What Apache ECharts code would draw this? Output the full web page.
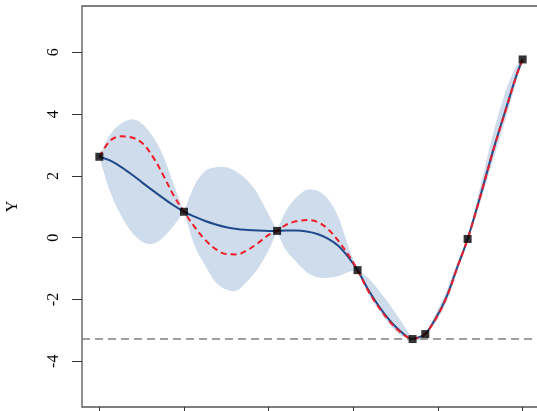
<!DOCTYPE html>
<html>
<head>
<meta charset="utf-8">
<script src="https://cdn.jsdelivr.net/npm/echarts@6/dist/echarts.min.js"></script>
<style>
html,body{margin:0;padding:0;background:#ffffff;}
#chart{width:537px;height:411px;}
</style>
</head>
<body>
<div id="chart"></div>
<script>
const xGrid = [0, 0.025, 0.05, 0.075, 0.1, 0.125, 0.15, 0.175, 0.2, 0.225, 0.25, 0.275, 0.3, 0.325, 0.35, 0.375, 0.4,
  0.42, 0.44, 0.465, 0.49, 0.515, 0.54, 0.565, 0.59,
  0.61,
  0.635, 0.66, 0.685, 0.71,
  0.74, 0.755, 0.77,
  0.795, 0.82, 0.845,
  0.87,
  0.9, 0.93, 0.96, 0.985, 1.0];

// posterior mean (blue solid)
const meanY = [2.62, 2.50, 2.30, 2.06, 1.80, 1.54, 1.29, 1.05, 0.84, 0.68, 0.54, 0.43, 0.34, 0.28, 0.25, 0.23, 0.22,
  0.22, 0.23, 0.23, 0.20, 0.12, -0.03, -0.27, -0.66,
  -1.05,
  -1.68, -2.21, -2.66, -3.01,
  -3.28, -3.22, -3.12,
  -2.60, -1.92, -0.98,
  -0.04,
  1.35, 2.81, 4.15, 5.24, 5.77];

// upper edge of the shaded band
const upperY = [2.62, 3.33, 3.68, 3.83, 3.70, 3.30, 2.68, 1.75, 0.84, 1.70, 2.16, 2.28, 2.28, 2.13, 1.85, 1.40, 0.75,
  0.22, 0.85, 1.30, 1.55, 1.52, 1.25, 0.65, -0.35,
  -1.05,
  -1.30, -1.70, -2.15, -2.65,
  -3.28, -3.18, -3.12,
  -2.45, -1.72, -0.82,
  -0.04,
  1.65, 3.35, 4.75, 5.55, 5.77];

// lower edge of the shaded band
const lowerY = [2.62, 1.50, 0.75, 0.20, -0.12, -0.20, 0.00, 0.38, 0.84, -0.25, -0.90, -1.45, -1.68, -1.71, -1.40, -1.00, -0.40,
  0.22, -0.38, -0.78, -1.12, -1.28, -1.30, -1.24, -1.10,
  -1.05,
  -1.80, -2.33, -2.78, -3.14,
  -3.28, -3.32, -3.12,
  -2.72, -2.08, -1.10,
  -0.04,
  1.15, 2.50, 3.85, 5.05, 5.77];

// sample path (red dashed)
const sampleY = [2.62, 3.13, 3.28, 3.25, 3.08, 2.65, 2.05, 1.38, 0.84, 0.35, -0.07, -0.37, -0.53, -0.54, -0.40, -0.17, 0.09,
  0.22, 0.41, 0.53, 0.57, 0.51, 0.28, -0.11, -0.59,
  -1.05,
  -1.72, -2.25, -2.70, -3.04,
  -3.28, -3.23, -3.12,
  -2.62, -1.94, -0.99,
  -0.04,
  1.33, 2.80, 4.13, 5.23, 5.77];

// observations (black squares)
const obsX = [0, 0.2, 0.42, 0.61, 0.74, 0.77, 0.87, 1.0];
const obsY = [2.62, 0.84, 0.22, -1.05, -3.28, -3.12, -0.04, 5.77];

// best observed value (grey dashed line)
const bestY = -3.28;

// ticks
const xTicks = [0, 0.2, 0.4, 0.6, 0.8, 1.0];
const yTicks = [-4, -2, 0, 2, 4, 6];

const pairs = (ys) => xGrid.map((x, i) => [x, ys[i]]);
const obsPts = obsX.map((x, i) => [x, obsY[i]]);
// band pinches at the observations
const pinchIdx = obsX.map(ox => xGrid.indexOf(ox));

const serif = "'Liberation Serif', 'DejaVu Serif', serif";
const chart = echarts.init(document.getElementById('chart'), null, {renderer: 'canvas'});

// smooth open curve through pixel points (Catmull-Rom as cubic Beziers), appended to a path string
function curveTo(pts) {
  let d = '';
  const n = pts.length;
  for (let i = 0; i < n - 1; i++) {
    const p0 = pts[Math.max(i - 1, 0)];
    const p1 = pts[i];
    const p2 = pts[i + 1];
    const p3 = pts[Math.min(i + 2, n - 1)];
    const c1 = [p1[0] + (p2[0] - p0[0]) / 6, p1[1] + (p2[1] - p0[1]) / 6];
    const c2 = [p2[0] - (p3[0] - p1[0]) / 6, p2[1] - (p3[1] - p1[1]) / 6];
    d += ' C' + c1[0] + ',' + c1[1] + ' ' + c2[0] + ',' + c2[1] + ' ' + p2[0] + ',' + p2[1];
  }
  return d;
}

function renderBand(params, api) {
  let d = '';
  for (let k = 0; k < pinchIdx.length - 1; k++) {
    const s = pinchIdx[k], e = pinchIdx[k + 1];
    const top = [], bot = [];
    for (let i = s; i <= e; i++) top.push(api.coord([xGrid[i], upperY[i]]));
    for (let i = e; i >= s; i--) bot.push(api.coord([xGrid[i], lowerY[i]]));
    d += 'M' + top[0][0] + ',' + top[0][1] + curveTo(top);
    d += ' L' + bot[0][0] + ',' + bot[0][1] + curveTo(bot) + ' Z ';
  }
  return {
    type: 'path',
    shape: {pathData: d},
    style: {fill: '#cfdcec', stroke: null},
    silent: true
  };
}

chart.setOption({
  animation: false,
  backgroundColor: '#ffffff',
  grid: {
    left: 82, top: 6, right: -3, bottom: 4,
    containLabel: false,
    outerBoundsMode: 'none',
    show: true, borderColor: '#555555', borderWidth: 1.3,
    backgroundColor: 'transparent'
  },
  xAxis: {
    type: 'value',
    min: -0.041, max: 1.041,
    axisLine: {show: false, onZero: false},
    splitLine: {show: false},
    axisTick: {show: true, length: 10, customValues: xTicks, lineStyle: {color: '#333333', width: 1}},
    axisLabel: {show: false}
  },
  yAxis: {
    type: 'value',
    min: -5.48, max: 7.50,
    axisLine: {show: false, onZero: false},
    splitLine: {show: false},
    axisTick: {show: true, length: 10, customValues: yTicks, lineStyle: {color: '#333333', width: 1}},
    axisLabel: {
      show: true, customValues: yTicks, rotate: 90, margin: 20,
      fontSize: 16, fontFamily: serif, color: '#000000'
    },
    name: 'Y',
    nameLocation: 'middle',
    nameGap: 61,
    nameTextStyle: {fontSize: 16, fontFamily: serif, color: '#000000'}
  },
  series: [
    {
      name: 'band', type: 'custom',
      renderItem: renderBand,
      data: [[0, 0]],
      encode: {x: 0, y: 1},
      silent: true,
      z: 1
    },
    {
      name: 'mean', type: 'line', data: pairs(meanY),
      smooth: 0.35, symbol: 'none',
      lineStyle: {color: '#1f4a8a', width: 2},
      z: 3,
      markLine: {
        silent: true, symbol: 'none',
        label: {show: false},
        lineStyle: {color: '#808080', width: 1.5, type: [8, 5]},
        data: [{yAxis: bestY}]
      }
    },
    {
      name: 'sample', type: 'line', data: pairs(sampleY),
      smooth: 0.35, symbol: 'none',
      lineStyle: {color: '#ee1c25', width: 2, type: [6, 4]},
      z: 4
    },
    {
      name: 'obs', type: 'scatter', data: obsPts,
      symbol: 'rect', symbolSize: 8,
      itemStyle: {color: '#000000'},
      z: 5
    }
  ]
});
</script>
</body>
</html>
